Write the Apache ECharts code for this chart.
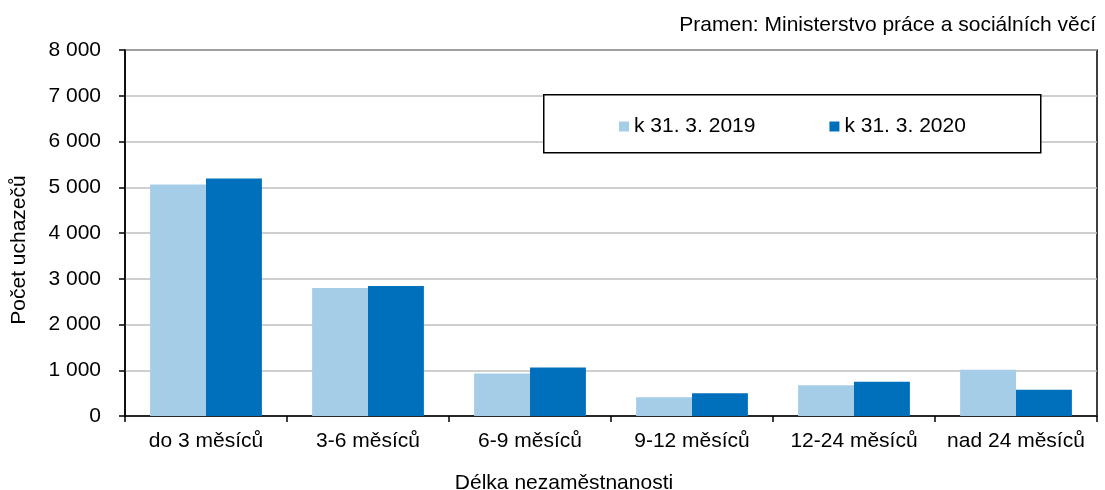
<!DOCTYPE html>
<html>
<head>
<meta charset="utf-8">
<script src="https://cdn.jsdelivr.net/npm/echarts@6/dist/echarts.min.js"></script>
<style>
  html, body { margin: 0; padding: 0; background: #fff; }
  #chart { width: 1105px; height: 490px; }
</style>
</head>
<body>
<div id="chart"></div>
<script>
const categories = ['do 3 měsíců', '3-6 měsíců', '6-9 měsíců', '9-12 měsíců', '12-24 měsíců', 'nad 24 měsíců'];
const values2019 = [5060, 2800, 930, 410, 670, 1010];
const values2020 = [5190, 2840, 1060, 495, 750, 575];
const yTicks = { min: 0, max: 8000, interval: 1000 };

const font = 'Liberation Sans, Arial, sans-serif';
const fmt = v => String(v).replace(/\B(?=(\d{3})+(?!\d))/g, ' ');

const chart = echarts.init(document.getElementById('chart'));

chart.setOption({
  animation: false,
  textStyle: { fontFamily: font, color: '#000' },
  title: {
    text: 'Pramen: Ministerstvo práce a sociálních věcí',
    right: 4,
    top: 10,
    textStyle: { fontFamily: font, fontSize: 21, fontWeight: 'normal', color: '#000' }
  },
  grid: {
    left: 125, right: 8, top: 50, bottom: 74,
    outerBoundsMode: 'none',
    containLabel: false,
    show: true, borderColor: '#000', borderWidth: 1.5, backgroundColor: 'transparent'
  },
  graphic: [{
    type: 'rect',
    left: 543, top: 94,
    shape: { width: 497, height: 58 },
    style: { fill: '#fff', stroke: '#000', lineWidth: 1.5 },
    z: 10
  }],
  legend: {
    left: 614, top: 111,
    z: 20,
    icon: 'rect',
    itemWidth: 10, itemHeight: 10,
    itemGap: 74,
    textStyle: { fontFamily: font, fontSize: 21, color: '#000' },
    data: ['k 31. 3. 2019', 'k 31. 3. 2020']
  },
  xAxis: {
    type: 'category',
    data: categories,
    name: 'Délka nezaměstnanosti',
    nameLocation: 'middle',
    nameGap: 57,
    nameTextStyle: { fontFamily: font, fontSize: 21, color: '#000', padding: [0, 94, 0, 0] },
    axisLine: { lineStyle: { color: '#000', width: 1.5 } },
    axisTick: { show: true, length: 6, alignWithLabel: false, lineStyle: { color: '#000', width: 1.5 } },
    axisLabel: { fontFamily: font, fontSize: 21, color: '#000', margin: 15, interval: 0 }
  },
  yAxis: {
    type: 'value',
    min: yTicks.min, max: yTicks.max, interval: yTicks.interval,
    name: 'Počet uchazečů',
    nameLocation: 'middle',
    nameGap: 95,
    nameTextStyle: { fontFamily: font, fontSize: 21, color: '#000', padding: [0, 34, 0, 0] },
    axisLine: { show: true, lineStyle: { color: '#000', width: 1.5 } },
    axisTick: { show: true, length: 6, lineStyle: { color: '#000', width: 1.5 } },
    axisLabel: { fontFamily: font, fontSize: 21, color: '#000', margin: 24, formatter: fmt },
    splitLine: { lineStyle: { color: '#bfbfbf', width: 1.5 } }
  },
  series: [
    {
      name: 'k 31. 3. 2019',
      type: 'bar',
      data: values2019,
      barGap: '0%',
      barCategoryGap: '31%',
      itemStyle: { color: '#a6cde8' }
    },
    {
      name: 'k 31. 3. 2020',
      type: 'bar',
      data: values2020,
      itemStyle: { color: '#0070bc' }
    }
  ]
});
</script>
</body>
</html>
